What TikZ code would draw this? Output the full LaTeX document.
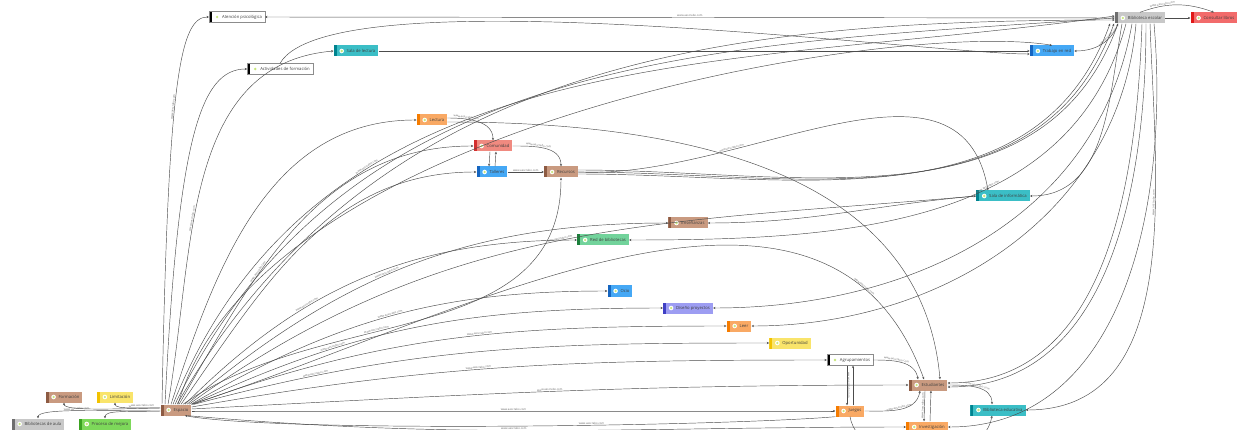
\documentclass[tikz,border=0pt]{standalone}
\usepackage{fontspec}
\setmainfont{Open Sans}
\usetikzlibrary{arrows.meta}

\definecolor{brownfill}{HTML}{C99A80}\definecolor{brownbar}{HTML}{8D5B43}
\definecolor{orangefill}{HTML}{F9A964}\definecolor{orangebar}{HTML}{F57C00}
\definecolor{salmonfill}{HTML}{F08A80}\definecolor{salmonbar}{HTML}{D32F2F}
\definecolor{bluefill}{HTML}{45A8F5}\definecolor{bluebar}{HTML}{1565C0}
\definecolor{tealfill}{HTML}{3BBEC6}\definecolor{tealbar}{HTML}{00838F}
\definecolor{greenfill}{HTML}{72D39B}\definecolor{greenbar}{HTML}{1B7F3B}
\definecolor{limefill}{HTML}{7DD85A}\definecolor{limebar}{HTML}{3BA321}
\definecolor{purplefill}{HTML}{9D9DF2}\definecolor{purplebar}{HTML}{3F3FC4}
\definecolor{yellowfill}{HTML}{F9E46B}\definecolor{yellowbar}{HTML}{F2C200}
\definecolor{grayfill}{HTML}{C8C8C8}\definecolor{graybar}{HTML}{6E6E6E}
\definecolor{redfill}{HTML}{F26B6B}\definecolor{redbar}{HTML}{E01818}

\tikzset{
  concept/.style 2 args={rectangle, fill=#1, minimum height=11pt, inner ysep=0pt, inner xsep=3pt,
    font=\fontsize{4.2}{5}\selectfont, text=black!75,
    path picture={
      \fill[#2] (path picture bounding box.north west) rectangle ([xshift=3pt]path picture bounding box.south west);
      \fill[white] ([xshift=8pt]path picture bounding box.west) circle (2.3pt);
      \fill[yellow!60!green!55] ([xshift=8pt]path picture bounding box.west) circle (1.3pt);
    }},
  plain/.style={concept={white}{black}, draw=black!45, line width=0.3pt},
  link/.style={-{Stealth[length=2.4pt,width=2.2pt]}, draw=black!70, line width=0.45pt},
  weblab/.style={sloped, above, inner sep=0.6pt, font=\fontsize{2.8}{3}\selectfont, text=black!60},
}
\newcommand{\web}{www.aescrabo.com}

\begin{document}
\begin{tikzpicture}[x=1pt,y=1pt]
  \useasboundingbox (0,0) rectangle (1239,-430);

  % nodes
  \node[plain] (aten) at (237,-17) {\hspace*{10pt}Atención psicológica};
  \node[plain] (activ) at (280,-69) {\hspace*{10pt}Actividades de formación};
  \node[concept={tealfill}{tealbar}] (salalec) at (356,-51) {\hspace*{10pt}Sala de lectura};
  \node[concept={bluefill}{bluebar}] (trabajo) at (1052,-51) {\hspace*{10pt}Trabajo en red};
  \node[concept={grayfill}{graybar}] (biblio) at (1140,-18) {\hspace*{10pt}Biblioteca escolar};
  \node[concept={redfill}{redbar}] (consult) at (1214,-18) {\hspace*{10pt}Consultar libros};
  \node[concept={orangefill}{orangebar}] (lectura) at (432,-120) {\hspace*{10pt}Lectura};
  \node[concept={salmonfill}{salmonbar}] (comun) at (493,-146) {\hspace*{10pt}Comunidad};
  \node[concept={bluefill}{bluebar}] (talleres) at (492,-172) {\hspace*{10pt}Talleres};
  \node[concept={brownfill}{brownbar}] (recursos) at (561,-172) {\hspace*{10pt}Recursos};
  \node[concept={tealfill}{tealbar}] (salainf) at (1003,-196) {\hspace*{10pt}Sala de informática};
  \node[concept={brownfill}{brownbar}] (ensen) at (688,-223) {\hspace*{10pt}Enseñanzas};
  \node[concept={greenfill}{greenbar}] (red) at (603,-240) {\hspace*{10pt}Red de bibliotecas};
  \node[concept={bluefill}{bluebar}] (ocio) at (620,-291) {\hspace*{10pt}Ocio};
  \node[concept={purplefill}{purplebar}] (diseno) at (688,-308) {\hspace*{10pt}Diseño proyectos};
  \node[concept={orangefill}{orangebar}] (leer) at (739,-326) {\hspace*{10pt}Leer};
  \node[concept={yellowfill}{yellowbar}] (oport) at (790,-343) {\hspace*{10pt}Oportunidad};
  \node[plain] (agrup) at (850,-360) {\hspace*{10pt}Agrupamientos};
  \node[concept={brownfill}{brownbar}] (estud) at (928,-385) {\hspace*{10pt}Estudiantes};
  \node[concept={orangefill}{orangebar}] (juegos) at (850,-411) {\hspace*{10pt}Juegos};
  \node[concept={tealfill}{tealbar}] (bibedu) at (998,-410) {\hspace*{10pt}Biblioteca educativa};
  \node[concept={orangefill}{orangebar}] (invest) at (927,-427) {\hspace*{10pt}Investigación};
  \node[concept={brownfill}{brownbar}] (espacio) at (176,-410) {\hspace*{10pt}Espacio};
  \node[concept={brownfill}{brownbar}] (formac) at (64,-397) {\hspace*{10pt}Formación};
  \node[concept={yellowfill}{yellowbar}] (limit) at (115,-397) {\hspace*{10pt}Limitación};
  \node[concept={grayfill}{graybar}] (bibaula) at (38,-424) {\hspace*{10pt}Bibliotecas de aula};
  \node[concept={limefill}{limebar}] (proceso) at (105,-424) {\hspace*{10pt}Proceso de mejora};

  % fan out of Espacio
  \draw[link] ([xshift=-14pt]espacio.north) .. controls (168,-80) and (180,-17) .. node[weblab,pos=0.45] {\web} (aten.west);
  \draw[link] ([xshift=-11pt]espacio.north) .. controls (178,-140) and (200,-69) .. (activ.west);
  \draw[link] ([xshift=-8pt]espacio.north) to[out=80,in=185] node[weblab,pos=0.4] {\web} (salalec.west);
  \draw[link] ([xshift=-5pt]espacio.north) to[out=72,in=180] (lectura.west);
  \draw[link] ([xshift=-3pt]espacio.north) to[out=68,in=188] node[weblab,pos=0.3] {\web} ([yshift=2pt]biblio.west);
  \draw[link] ([xshift=-1pt]espacio.north) to[out=64,in=184] ([yshift=0pt]biblio.west);
  \draw[link] ([xshift=1pt]espacio.north) to[out=60,in=180] ([yshift=-2pt]biblio.west);
  \draw[link] ([xshift=2pt]espacio.north) .. controls (260,-120) and (900,-20) .. (trabajo.north);
  \draw[link] ([xshift=3pt]espacio.north) to[out=60,in=180] node[weblab,pos=0.35] {\web} (comun.west);
  \draw[link] ([xshift=5pt]espacio.north) to[out=55,in=180] (talleres.west);
  \draw[link] ([xshift=7pt]espacio.north) to[out=35,in=-90] node[weblab,pos=0.4] {\web} (recursos.south);
  \draw[link] ([xshift=9pt]espacio.north) to[out=45,in=180] node[weblab,pos=0.35] {\web} (red.west);
  \draw[link] ([xshift=11pt]espacio.north) to[out=40,in=180] node[weblab,pos=0.45] {\web} (ensen.west);
  \draw[link] ([xshift=13pt]espacio.north) to[out=36,in=185] node[weblab,pos=0.5] {\web} (salainf.west);
  \draw[link] ([xshift=15pt]espacio.north) to[out=30,in=180] node[weblab,pos=0.5] {\web} (ocio.west);
  \draw[link] ([xshift=16pt]espacio.north) to[out=25,in=180] node[weblab,pos=0.3] {\web} (diseno.west);
  \draw[link] ([xshift=17pt]espacio.north) to[out=20,in=180] node[weblab,pos=0.55] {\web} (leer.west);
  \draw[link] ([xshift=18pt]espacio.north) to[out=15,in=180] node[weblab,pos=0.2] {\web} (oport.west);
  \draw[link] (espacio.north east) to[out=18,in=110] node[weblab,pos=0.85] {\web} ([xshift=-4pt]estud.north);
  \draw[link] ([yshift=3pt]espacio.east) to[out=10,in=180] node[weblab,pos=0.45] {\web} (agrup.west);
  \draw[link] ([yshift=1pt]espacio.east) to[out=3,in=180] node[weblab,pos=0.5] {\web} (estud.west);
  \draw[link] ([yshift=-1pt]espacio.east) to[out=0,in=180] node[weblab,pos=0.5] {\web} (juegos.west);
  \draw[link] ([xshift=12pt]espacio.south) to[out=-5,in=180] node[weblab,pos=0.45] {\web} (invest.west);

  % small nodes beside Espacio
  \draw[link] ([yshift=2pt]espacio.west) .. controls (110,-409) and (64,-411) .. (formac.south);
  \draw[link] ([yshift=2pt]espacio.west) .. controls (140,-407) and (115,-410) .. node[weblab,pos=0.3] {\web} (limit.south);
  \draw[link] ([yshift=-1pt]espacio.west) .. controls (100,-411) and (38,-408) .. node[weblab,pos=0.5] {\web} (bibaula.north);
  \draw[link] ([yshift=-1pt]espacio.west) .. controls (125,-412) and (105,-410) .. (proceso.north);

  % Biblioteca escolar
  \draw[link] (biblio.west) -- node[weblab,pos=0.5] {\web} (aten.east);
  \draw[link] (biblio.east) -- (consult.west);
  \draw[link] (biblio.north) to[out=20,in=160] node[weblab,pos=0.3] {\web} (consult.north);
  \draw[link] ([xshift=-22pt]biblio.south) to[out=-110,in=0] node[weblab,pos=0.3] {\web} (trabajo.east);
  \draw[link] ([xshift=-18pt]biblio.south) to[out=-100,in=0] (salainf.east);
  \draw[link] ([xshift=-14pt]biblio.south) to[out=-105,in=0] node[weblab,pos=0.4] {\web} (red.east);
  \draw[link] ([xshift=-8pt]biblio.south) to[out=-100,in=0] (diseno.east);
  \draw[link] ([xshift=-4pt]biblio.south) to[out=-95,in=0] (leer.east);
  \draw[link] ([xshift=2pt]biblio.south) to[out=-92,in=0] ([yshift=2pt]estud.east);
  \draw[link] ([xshift=6pt]biblio.south) to[out=-90,in=0] ([yshift=-2pt]estud.east);
  \draw[link] ([xshift=10pt]biblio.south) to[out=-88,in=0] node[weblab,pos=0.35] {\web} (bibedu.east);
  \draw[link] ([xshift=14pt]biblio.south) to[out=-85,in=0] (invest.east);
  \foreach \s in {-2,0,2}
    \draw[link] ([yshift=\s pt]recursos.east) to[out=0,in=-110] ([xshift=-26pt+2*\s pt]biblio.south);

  % inner links
  \draw[link] (salalec.east) -- (trabajo.west);
  \draw[link] (activ.north) to[out=60,in=180,looseness=0.35] ([yshift=-3pt]trabajo.west);
  \draw[link] ([yshift=2pt]lectura.east) to[out=0,in=90] node[weblab,pos=0.3] {\web} (comun.north);
  \draw[link] ([yshift=-2pt]lectura.east) to[out=0,in=95] ([xshift=12pt]estud.north);
  \draw[link] ([xshift=-3pt]comun.south) -- ([xshift=-3pt]talleres.north);
  \draw[link] ([xshift=3pt]talleres.north) -- ([xshift=3pt]comun.south);
  \draw[link] (talleres.east) -- node[weblab] {\web} (recursos.west);
  \draw[link] (comun.east) to[out=0,in=90] node[weblab,pos=0.4] {\web} (recursos.north);
  \draw[link] (recursos.east) to[out=-3,in=100] node[weblab,pos=0.3] {\web} ([xshift=-15pt]salainf.north);
  \draw[link] (salainf.west) to[out=185,in=0] (ensen.east);
  \draw[link] (agrup.east) to[out=0,in=100] node[weblab,pos=0.4] {\web} ([xshift=-10pt]estud.north);
  \draw[link] ([xshift=-3pt]agrup.south) -- node[weblab] {\web} ([xshift=-3pt]juegos.north);
  \draw[link] ([xshift=3pt]juegos.north) -- ([xshift=3pt]agrup.south);
  \draw[link] (juegos.east) to[out=0,in=-100] node[weblab,pos=0.5] {\web} ([xshift=-8pt]estud.south);
  \draw[link] ([xshift=-3pt]estud.south) -- node[weblab] {\web} ([xshift=-3pt]invest.north);
  \draw[link] ([xshift=3pt]invest.north) -- ([xshift=3pt]estud.south);
  \draw[link] (estud.east) to[out=0,in=90] node[weblab,pos=0.5] {\web} ([xshift=-6pt]bibedu.north);
  \draw[link] (juegos.south) to[out=-80,in=-100] ([xshift=-6pt]bibedu.south);
  \draw[link] (juegos.south west) to[out=-175,in=-10,looseness=0.4] node[weblab,pos=0.4] {\web} ([xshift=9pt]espacio.south);
\end{tikzpicture}
\end{document}
